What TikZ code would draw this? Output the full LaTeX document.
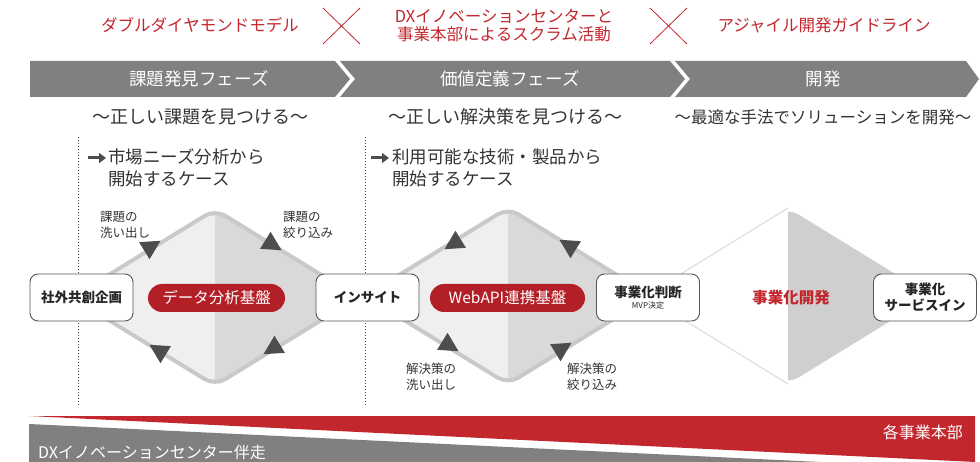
\documentclass[tikz,border=0pt]{standalone}
\usepackage{fontspec}
\setmainfont{Noto Sans CJK JP}
\usetikzlibrary{arrows.meta,calc}
\definecolor{dred}{HTML}{C1272D}
\definecolor{pillred}{HTML}{B31F27}
\definecolor{bargray}{HTML}{808080}
\definecolor{txt}{HTML}{333333}
\definecolor{dlight}{HTML}{EFEFEF}
\definecolor{ddark}{HTML}{D9D9D9}
\definecolor{dborder}{HTML}{C9C9C9}
\definecolor{trif}{HTML}{4D4D4D}
\definecolor{boxline}{HTML}{555555}
\newcommand\dmdpath[2]{(#1-143,#2) -- (#1,#2-88) -- (#1+143,#2) -- (#1,#2+88) -- cycle}
\newcommand\fs[2]{\fontsize{#1}{#2}\selectfont}
\begin{document}
\begin{tikzpicture}[x=1pt,y=-1pt,
  redtitle/.style={text=dred,font=\fs{16.5}{18},align=center,inner sep=0},
  bartext/.style={text=white,font=\fs{17.5}{20},inner sep=0},
  subtitle/.style={text=txt,inner sep=0},
  casetext/.style={text=txt,font=\fs{17.5}{22},align=left,anchor=west,inner sep=0},
  smalllabel/.style={text=txt,font=\fs{12.5}{16},align=left,anchor=west,inner sep=0},
  boxst/.style={draw=boxline,fill=white,rounded corners=8pt,line width=0.9pt,minimum width=103pt,minimum height=47pt,inner sep=0,text=black!85,align=center},
  pillst/.style={fill=pillred,rounded corners=14pt,minimum height=28pt,inner sep=0,text=white,font=\fs{15.5}{18}},
  xmark/.style={draw=dred,line width=0.8pt},
  dotline/.style={draw=black!75,line width=1pt,dotted},
  trist/.style={fill=trif},
  casearrow/.style={draw=trif,line width=3pt,-{Triangle[length=7pt,width=10pt]}}
]
\useasboundingbox (0,0) rectangle (980,462);

% top titles
\node[redtitle] (t1) at (200,25) {ダブルダイヤモンドモデル};
\node[redtitle] (t2) at (504,25) {DXイノベーションセンターと\\事業本部によるスクラム活動};
\node[redtitle] (t3) at (824,25) {アジャイル開発ガイドライン};
\coordinate (x1a) at (323,8); \coordinate (x1b) at (360,44);
\coordinate (x1c) at (360,8); \coordinate (x1d) at (323,44);
\draw[xmark] (x1a) -- (x1b); \draw[xmark] (x1c) -- (x1d);
\coordinate (x2a) at (650,8); \coordinate (x2b) at (687,44);
\coordinate (x2c) at (687,8); \coordinate (x2d) at (650,44);
\draw[xmark] (x2a) -- (x2b); \draw[xmark] (x2c) -- (x2d);

% phase bar
\fill[bargray] (30,61) -- (335,61) -- (350,79) -- (335,97) -- (30,97) -- cycle;
\fill[bargray] (340,61) -- (670,61) -- (685,79) -- (670,97) -- (340,97) -- (355,79) -- cycle;
\fill[bargray] (675,61) -- (966,61) -- (979,79) -- (966,97) -- (675,97) -- (690,79) -- cycle;
\node[bartext] (ph1) at (199,79) {課題発見フェーズ};
\node[bartext] (ph2) at (510,79) {価値定義フェーズ};
\node[bartext] (ph3) at (823,79) {開発};

% subtitles
\node[subtitle,font=\fs{18}{22}] (s1) at (200,117) {〜正しい課題を見つける〜};
\node[subtitle,font=\fs{18}{22}] (s2) at (505,117) {〜正しい解決策を見つける〜};
\node[subtitle,font=\fs{16.5}{22}] (s3) at (823,117) {〜最適な手法でソリューションを開発〜};

% dotted lines
\coordinate (d1a) at (78,137); \coordinate (d1b) at (78,406);
\coordinate (d2a) at (365,137); \coordinate (d2b) at (365,406);
\draw[dotline] (d1a) -- (d1b);
\draw[dotline] (d2a) -- (d2b);

% case texts
\coordinate (ca1s) at (88,158); \coordinate (ca1e) at (106,158);
\draw[casearrow] (ca1s) -- (ca1e);
\node[casetext] (c1) at (108,168) {市場ニーズ分析から\\開始するケース};
\coordinate (ca2s) at (371,158); \coordinate (ca2e) at (389,158);
\draw[casearrow] (ca2s) -- (ca2e);
\node[casetext] (c2) at (392,168) {利用可能な技術・製品から\\開始するケース};

% diamond 1
\begin{scope}
  \fill[dlight,rounded corners=12pt] \dmdpath{215}{297.5};
  \clip (215,190) rectangle (380,400);
  \fill[ddark,rounded corners=12pt] \dmdpath{215}{297.5};
\end{scope}
\draw[dborder,line width=4pt,rounded corners=12pt] \dmdpath{215}{297.5};
% diamond 2
\begin{scope}
  \fill[dlight,rounded corners=12pt] \dmdpath{508}{296};
  \clip (508,190) rectangle (670,400);
  \fill[ddark,rounded corners=12pt] \dmdpath{508}{296};
\end{scope}
\draw[dborder,line width=4pt,rounded corners=12pt] \dmdpath{508}{296};
% diamond 3
\begin{scope}
  \fill[white,rounded corners=12pt] \dmdpath{788}{296};
  \clip (788,190) rectangle (950,400);
  \fill[black!19,rounded corners=12pt] \dmdpath{788}{296};
\end{scope}
\draw[black!14,line width=1pt,rounded corners=12pt] (788,208) -- (645,296) -- (788,384);

% triangles diamond 1
\fill[trist,shift={(152,246)},rotate=31.5] (10,0) -- (-9,10) -- (-9,-10) -- cycle;
\fill[trist,shift={(273,245)},rotate=-31.5] (10,0) -- (-9,10) -- (-9,-10) -- cycle;
\fill[trist,shift={(158,350)},rotate=148.5] (10,0) -- (-9,10) -- (-9,-10) -- cycle;
\fill[trist,shift={(272,349)},rotate=211.5] (10,0) -- (-9,10) -- (-9,-10) -- cycle;
% triangles diamond 2
\fill[trist,shift={(453,244)},rotate=211.5] (10,0) -- (-9,10) -- (-9,-10) -- cycle;
\fill[trist,shift={(568,245)},rotate=148.5] (10,0) -- (-9,10) -- (-9,-10) -- cycle;
\fill[trist,shift={(450,346)},rotate=-31.5] (10,0) -- (-9,10) -- (-9,-10) -- cycle;
\fill[trist,shift={(563,348)},rotate=31.5] (10,0) -- (-9,10) -- (-9,-10) -- cycle;

% small labels
\node[smalllabel] (l1) at (100,225) {課題の\\洗い出し};
\node[smalllabel] (l2) at (283,225) {課題の\\絞り込み};
\node[smalllabel] (l3) at (406,377) {解決策の\\洗い出し};
\node[smalllabel] (l4) at (567,377) {解決策の\\絞り込み};

% boxes
\node[boxst,font=\fs{13.5}{16}\bfseries] (b1) at (81.5,297.5) {社外共創企画};
\node[boxst,font=\fs{13.5}{16}\bfseries] (b2) at (367.5,297.5) {インサイト};
\node[boxst] (b3) at (648,297.5) {{\fs{13.5}{16}\bfseries 事業化判断}\\[-1pt]{\fs{8}{10}MVP決定}};
\node[boxst,font=\fs{13.5}{16}\bfseries] (b4) at (925,297.5) {事業化\\サービスイン};

% pills
\node[pillst,minimum width=137pt] (p1) at (216.5,298) {データ分析基盤};
\node[pillst,minimum width=155pt] (p2) at (507.5,298) {WebAPI連携基盤};
\node[text=dred,font=\fs{15.5}{18}\bfseries,inner sep=0] (p3) at (791,298) {事業化開発};

% bottom band
\fill[dred] (29,416) -- (975,416) -- (975,462) -- cycle;
\fill[bargray] (29,424) -- (820,462) -- (29,462) -- cycle;
\node[text=white,font=\fs{16}{18},anchor=east,inner sep=0] (bb1) at (963,432) {各事業本部};
\node[text=white,font=\fs{16}{18},anchor=west,inner sep=0] (bb2) at (38,452) {DXイノベーションセンター伴走};
\end{tikzpicture}
\end{document}
